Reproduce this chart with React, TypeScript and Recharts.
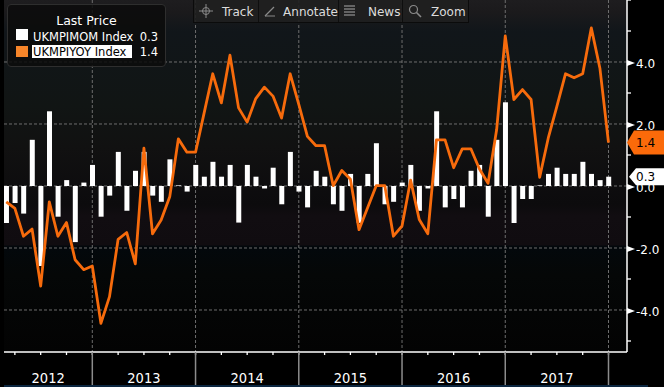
import React from 'react';
import { ComposedChart, Bar, Line, XAxis, YAxis, CartesianGrid } from 'recharts';

// ---- data ----
const months: string[] = [
  '2012-02', '2012-03', '2012-04', '2012-05', '2012-06', '2012-07', '2012-08', '2012-09', '2012-10', '2012-11', '2012-12',
  '2013-01', '2013-02', '2013-03', '2013-04', '2013-05', '2013-06', '2013-07', '2013-08', '2013-09', '2013-10', '2013-11', '2013-12',
  '2014-01', '2014-02', '2014-03', '2014-04', '2014-05', '2014-06', '2014-07', '2014-08', '2014-09', '2014-10', '2014-11', '2014-12',
  '2015-01', '2015-02', '2015-03', '2015-04', '2015-05', '2015-06', '2015-07', '2015-08', '2015-09', '2015-10', '2015-11', '2015-12',
  '2016-01', '2016-02', '2016-03', '2016-04', '2016-05', '2016-06', '2016-07', '2016-08', '2016-09', '2016-10', '2016-11', '2016-12',
  '2017-01', '2017-02', '2017-03', '2017-04', '2017-05', '2017-06', '2017-07', '2017-08', '2017-09', '2017-10', '2017-11', '2017-12',
];

const years: string[] = ['2012', '2013', '2014', '2015', '2016', '2017'];

const momValues: number[] = [
  -1.19, -0.55, -0.89, 1.49, -2.58, 2.41, -0.99, 0.19, -1.81, 0.11, 0.68,
  -0.99, -0.31, 1.10, -0.80, 0.49, 1.10, -0.31, -0.51, 0.86, 0.02, -0.18, 0.68,
  0.30, 0.78, 0.30, 0.68, -1.18, 0.68, 0.30, -0.08, 0.59, -0.59, 1.10, -0.18,
  -0.69, 0.49, 0.30, -0.59, -0.80, 0.39, -1.19, 0.39, 1.38, -0.59, -0.51, 0.11,
  0.68, -0.80, -0.08, 2.41, -0.69, -0.42, -0.69, 0.49, 0.68, -0.99, 1.49, 2.70,
  -1.19, -0.42, -0.42, 0.02, 0.39, 0.59, 0.39, 0.39, 0.78, 0.39, 0.19, 0.30,
];

const yoyValues: number[] = [
  -0.51, -0.72, -1.62, -1.39, -3.23, -0.51, -1.62, -1.18, -2.38, -2.70, -2.58,
  -4.43, -3.57, -1.72, -1.50, -2.51, 1.22, -1.54, -1.10, -0.35, 1.52, 1.09, 1.09,
  2.36, 3.62, 2.68, 4.22, 2.52, 2.06, 2.82, 3.19, 2.90, 2.19, 3.62, 2.63,
  1.60, 1.30, 1.30, 0.01, 0.50, 0.22, -1.41, -0.70, 0.01, 0.01, -1.62, -1.29,
  0.19, -1.08, -1.54, 1.49, 1.49, 0.59, 1.20, 1.20, 0.55, 0.09, 1.82, 4.84,
  2.79, 3.11, 2.79, 0.28, 1.55, 2.57, 3.62, 3.49, 3.62, 5.10, 3.80, 1.40,
];

const seriesNames: string[] = ['UKMPIMOM Index', 'UKMPIYOY Index'];
const legendTitle = 'Last Price';
const yAxisTicks: number[] = [-5, -4, -3, -2, -1, 0, 1, 2, 3, 4, 5, 6];
const yLabelTicks: number[] = [-4, -2, 0, 2, 4];
const toolbarItems: string[] = ['Track', 'Annotate', 'News', 'Zoom'];

// ---- config ----
const X_DOMAIN: [number, number] = [-0.264, 72.15];
const Y_DOMAIN: [number, number] = [-5.355, 6.0];
const FONT = "'DejaVu Sans', Verdana, sans-serif";
const NARROW = "'Liberation Sans Narrow', 'DejaVu Sans Condensed', 'Liberation Sans', sans-serif";
const LINE_COLOR = '#f76b0c';
const LEGEND_ORANGE = '#f7862a';
const TAG_ORANGE = '#fb6a0a';
const GRID_COLOR = '#6d6d6d';

const data = months.map((m, i) => ({ idx: i, month: m, mom: momValues[i], yoy: yoyValues[i] }));
const quarterTicks = months
  .map((m, i) => ({ m, i }))
  .filter((o) => ['03', '06', '09', '12'].includes(o.m.slice(5)))
  .map((o) => o.i);
const yearEndTicks = months
  .map((m, i) => ({ m, i }))
  .filter((o) => o.m.endsWith('-12'))
  .map((o) => o.i);
const yearCenters = years.map((y) => {
  const end = months.indexOf(`${y}-12`);
  const start = Math.max(end - 12, X_DOMAIN[0]);
  return { value: (start + end) / 2, label: y };
});

const lastMom = momValues[momValues.length - 1];
const lastYoy = yoyValues[yoyValues.length - 1];
const tags = [
  { value: lastMom, fill: '#ffffff', half: 8.5, tip: 2 },
  { value: lastYoy, fill: TAG_ORANGE, half: 12, tip: 0 },
];
const yTicksAll = [...yAxisTicks, ...tags.map((t) => t.value)].sort((a, b) => a - b);

const near = (a: number, b: number) => Math.abs(a - b) < 1e-6;

function XTick(props: any) {
  const { x, y, payload } = props;
  const v = payload.value;
  const isYearEnd = yearEndTicks.some((t) => near(t, v));
  return (
    <g>
      <line x1={x} x2={x} y1={y} y2={y + 3} stroke="#ffffff" strokeWidth={1.3} />
      {isYearEnd && <line x1={x} x2={x} y1={y} y2={y + 36} stroke="#8c8c8c" strokeWidth={1.5} />}
    </g>
  );
}

function YearTick(props: any) {
  const { x, y, payload } = props;
  const c = yearCenters.find((yc) => near(yc.value, payload.value));
  if (!c) return <g />;
  return (
    <text x={x} y={y - 3} textAnchor="middle" fill="#ffffff" fontSize={14.5} fontFamily={NARROW}>
      {c.label}
    </text>
  );
}

function YTick(props: any) {
  const { x, y, payload } = props;
  const v = payload.value;
  const tag = tags.find((t) => near(t.value, v));
  if (tag) {
    const tx = x + tag.tip;
    return (
      <g>
        <polygon
          points={`${tx},${y} ${tx + 7},${y - tag.half} ${x + 40},${y - tag.half} ${x + 40},${y + tag.half} ${tx + 7},${y + tag.half}`}
          fill={tag.fill}
        />
        <text x={x + 9} y={y + 4.5} fill="#000000" fontSize={12} fontFamily={FONT}>
          {tag.value.toFixed(1)}
        </text>
      </g>
    );
  }
  if (yLabelTicks.some((t) => near(t, v))) {
    return (
      <g>
        <polygon points={`${x},${y - 2} ${x + 8},${y + 1} ${x},${y + 4}`} fill="#ffffff" />
        <text x={x + 9} y={y + 6} fill="#ffffff" fontSize={12} fontFamily={FONT}>
          {v.toFixed(1)}
        </text>
      </g>
    );
  }
  return <line x1={x} x2={x + 4} y1={y} y2={y} stroke="#ffffff" strokeWidth={1.3} />;
}

function ToolIcon({ name }: { name: string }) {
  const s = '#8a8a8a';
  if (name === 'Track')
    return (
      <svg width={14} height={14}>
        <circle cx={7} cy={7} r={3.5} stroke={s} fill="none" />
        <line x1={7} y1={0} x2={7} y2={14} stroke={s} />
        <line x1={0} y1={7} x2={14} y2={7} stroke={s} />
      </svg>
    );
  if (name === 'Annotate')
    return (
      <svg width={12} height={12}>
        <line x1={1} y1={11} x2={10} y2={2} stroke={s} strokeWidth={1.3} />
        <line x1={1} y1={11} x2={11} y2={11} stroke={s} />
      </svg>
    );
  if (name === 'News')
    return (
      <svg width={12} height={12}>
        {[1, 4, 7, 10].map((yy) => (
          <line key={yy} x1={0} y1={yy} x2={11} y2={yy} stroke={s} strokeWidth={1.3} />
        ))}
      </svg>
    );
  return (
    <svg width={14} height={14}>
      <circle cx={5.5} cy={5.5} r={4} stroke={s} fill="none" strokeWidth={1.2} />
      <line x1={8.5} y1={8.5} x2={13} y2={13} stroke={s} strokeWidth={1.6} />
    </svg>
  );
}

const toolWidths: Record<string, number> = { Track: 64, Annotate: 80, News: 64, Zoom: 66 };
const iconGap: Record<string, number> = { Track: 9, Annotate: 8, News: 12, Zoom: 9 };

export default function App() {
  return (
    <div style={{ position: 'absolute', left: 0, top: 0, width: 664, height: 387, background: '#000', overflow: 'hidden' }}>
      <ComposedChart width={664} height={387} data={data} margin={{ top: 0, right: 0, bottom: 0, left: 4 }}>
        <defs>
          <linearGradient id="plotBg" x1="0" y1="0" x2="0" y2="1">
            <stop offset="0" stopColor="#1e1d1f" />
            <stop offset="0.035" stopColor="#1b1a1c" />
            <stop offset="0.09" stopColor="#11161a" />
            <stop offset="0.3" stopColor="#111514" />
            <stop offset="0.42" stopColor="#111111" />
            <stop offset="0.58" stopColor="#0c0b0d" />
            <stop offset="0.615" stopColor="#110d11" />
            <stop offset="0.695" stopColor="#100c10" />
            <stop offset="0.70" stopColor="#03080c" />
            <stop offset="0.78" stopColor="#050707" />
            <stop offset="1" stopColor="#030303" />
          </linearGradient>
        </defs>
        <CartesianGrid
          xAxisId="q"
          fill="url(#plotBg)"
          stroke={GRID_COLOR}
          strokeDasharray="3 2"
          horizontalValues={yLabelTicks}
          verticalValues={yearEndTicks}
        />
        <XAxis
          xAxisId="q"
          type="number"
          dataKey="idx"
          domain={X_DOMAIN}
          allowDataOverflow
          ticks={quarterTicks}
          interval={0}
          tickSize={0}
          tickMargin={0}
          height={34}
          axisLine={{ stroke: '#ffffff', strokeWidth: 1.5 }}
          tickLine={false}
          tick={(p: any) => <XTick {...p} />}
        />
        <XAxis
          xAxisId="yr"
          type="number"
          dataKey="idx"
          domain={X_DOMAIN}
          allowDataOverflow
          ticks={yearCenters.map((c) => c.value)}
          interval={0}
          tickSize={0}
          tickMargin={0}
          height={1}
          axisLine={false}
          tickLine={false}
          tick={(p: any) => <YearTick {...p} />}
        />
        <YAxis
          orientation="right"
          type="number"
          width={37}
          domain={Y_DOMAIN}
          allowDataOverflow
          ticks={yTicksAll}
          interval={0}
          tickSize={0}
          tickMargin={0}
          axisLine={{ stroke: '#ffffff', strokeWidth: 1.5 }}
          tickLine={false}
          tick={(p: any) => <YTick {...p} />}
        />
        <Bar xAxisId="q" dataKey="mom" fill="#ffffff" barSize={5} isAnimationActive={false} />
        <Line
          xAxisId="q"
          type="linear"
          dataKey="yoy"
          stroke={LINE_COLOR}
          strokeWidth={2.8}
          strokeLinejoin="round"
          dot={false}
          activeDot={false}
          isAnimationActive={false}
        />
      </ComposedChart>

      {/* legend */}
      <div
        style={{
          position: 'absolute', left: 7, top: 4, width: 157, height: 61,
          background: 'rgba(12,12,12,0.86)', border: '1px solid #2e2e2e', borderRadius: 4,
          fontFamily: FONT, fontSize: 11.5, color: '#fff', lineHeight: '14px',
        }}
      >
        <div style={{ position: 'absolute', top: 9, left: 0, width: '100%', textAlign: 'center', fontSize: 12.5 }}>{legendTitle}</div>
        <div style={{ position: 'absolute', left: 8, top: 24, width: 12, height: 11, background: '#ffffff' }} />
        <div style={{ position: 'absolute', left: 25, top: 24.5, whiteSpace: 'pre' }}>{seriesNames[0]}</div>
        <div style={{ position: 'absolute', right: 7, top: 24.5 }}>{lastMom.toFixed(1)}</div>
        <div style={{ position: 'absolute', left: 8, top: 41, width: 12, height: 11, background: LEGEND_ORANGE }} />
        <div style={{ position: 'absolute', left: 24, top: 40, width: 100, height: 13, background: '#ffffff' }} />
        <div style={{ position: 'absolute', left: 25, top: 40, color: '#000', whiteSpace: 'pre' }}>{seriesNames[1]}</div>
        <div style={{ position: 'absolute', right: 7, top: 40 }}>{lastYoy.toFixed(1)}</div>
      </div>

      {/* toolbar */}
      <div
        style={{
          position: 'absolute', left: 193, top: -1, height: 22, display: 'flex',
          background: 'rgba(28,28,28,0.8)', border: '1px solid #0b0b0b',
          fontFamily: FONT, fontSize: 12, color: '#dcdcdc', lineHeight: '14px',
        }}
      >
        {toolbarItems.map((t, i) => (
          <div
            key={t}
            style={{
              width: toolWidths[t], height: 22, display: 'flex', alignItems: 'center', paddingLeft: 5,
              boxSizing: 'border-box', borderLeft: i === 0 ? 'none' : '1px solid #0e0e0e',
              background: 'rgba(34,34,34,0.55)',
            }}
          >
            <ToolIcon name={t} />
            <span style={{ marginLeft: iconGap[t], paddingTop: 1 }}>{t}</span>
          </div>
        ))}
      </div>

      {/* bottom strip */}
      <div style={{ position: 'absolute', left: 4, top: 385, width: 644, height: 2, background: '#0b2640' }} />
    </div>
  );
}
